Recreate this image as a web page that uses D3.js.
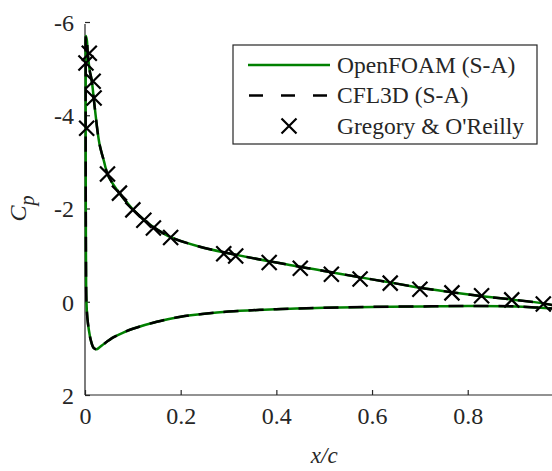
<!DOCTYPE html>
<html>
<head>
<meta charset="utf-8">
<script src="https://cdn.jsdelivr.net/npm/d3@7"></script>
<style>
  body { margin: 0; background: #fff; }
  svg { display: block; overflow: hidden; }
</style>
</head>
<body>
<div id="chart"></div>
<script>
// surface Cp, traced from lower TE round the leading edge to upper TE
var surfX = [1.0, 0.9, 0.8, 0.7, 0.6, 0.5, 0.4, 0.3, 0.24, 0.2, 0.15, 0.1, 0.08, 0.06, 0.04, 0.03, 0.024,
             0.018, 0.012, 0.008, 0.005, 0.003, 0.002, 0.0015, 0.0015, 0.002,
             0.004, 0.006, 0.01, 0.014, 0.02, 0.03, 0.04, 0.047, 0.06, 0.072, 0.1, 0.123, 0.143, 0.18,
             0.24, 0.3, 0.4, 0.5, 0.6, 0.64, 0.7, 0.77, 0.83, 0.89, 0.96, 1.0];
var foamCp = [0.16, 0.10, 0.09, 0.10, 0.11, 0.13, 0.16, 0.21, 0.27, 0.32, 0.43, 0.58, 0.66, 0.76, 0.9, 0.98, 1.02,
              0.99, 0.82, 0.6, 0.35, 0.0, -1.0, -3.0, -5.0, -5.7,
              -5.6, -5.3, -4.95, -4.75, -4.2, -3.4, -3.0, -2.74, -2.5, -2.33, -1.98, -1.76, -1.6, -1.38,
              -1.18, -1.04, -0.84, -0.66, -0.48, -0.41, -0.3, -0.2, -0.12, -0.05, 0.04, 0.12];
var cfl3dCp = foamCp.slice();

// Gregory & O'Reilly measurements
var expX  = [0.009, 0.002, 0.017, 0.019, 0.0035, 0.047, 0.072, 0.1, 0.123, 0.143, 0.179,
             0.29, 0.315, 0.385, 0.45, 0.515, 0.575, 0.638, 0.70, 0.767, 0.829, 0.892, 0.958];
var expCp = [-5.33, -5.12, -4.73, -4.37, -3.72, -2.74, -2.33, -1.97, -1.75, -1.58, -1.38,
             -1.03, -0.98, -0.84, -0.72, -0.59, -0.49, -0.40, -0.27, -0.19, -0.13, -0.04, 0.05];

var xTicks = [0, 0.2, 0.4, 0.6, 0.8];
var yTicks = [-6, -4, -2, 0, 2];
var legendLabels = ['OpenFOAM (S-A)', 'CFL3D (S-A)', "Gregory & O'Reilly"];

var W = 552, H = 471;
var serif = '"Liberation Serif", "Times New Roman", serif';
var svg = d3.select('#chart').append('svg')
    .attr('width', W)
    .attr('height', H)
    .style('font-family', serif);

var x = d3.scaleLinear().domain([0, 1]).range([85, 563.4]);
var y = d3.scaleLinear().domain([-6, 2]).range([22, 395]);

var axisColor = '#262626';

// axes (MATLAB style, box off, ticks inward)
var xAxis = svg.append('g')
    .attr('transform', 'translate(0,' + y(2) + ')')
    .call(d3.axisBottom(x).tickValues(xTicks).tickSize(-5).tickPadding(12)
        .tickFormat(d => String(d)));
var yAxis = svg.append('g')
    .attr('transform', 'translate(' + x(0) + ',0)')
    .call(d3.axisLeft(y).tickValues(yTicks).tickSize(-5).tickPadding(11)
        .tickFormat(d => String(d)));

[xAxis, yAxis].forEach(g => {
    g.attr('font-family', null).attr('font-size', null);
    g.select('.domain').attr('stroke', axisColor).attr('stroke-width', 1.2);
    g.selectAll('.tick line').attr('stroke', axisColor).attr('stroke-width', 1.2);
    g.selectAll('.tick text')
        .style('font-family', serif)
        .style('font-size', '24px')
        .attr('fill', axisColor);
});
xAxis.select('.domain').attr('d', 'M' + x(0) + ',0H' + x(1));
yAxis.select('.domain').attr('d', 'M0,' + (y(-6) + 2) + 'V' + y(2));
yAxis.selectAll('.tick text').attr('dy', '0.35em');

svg.append('text')
    .attr('x', x(0.5))
    .attr('y', 463)
    .attr('text-anchor', 'middle')
    .attr('fill', axisColor)
    .style('font-size', '23px')
    .style('font-style', 'italic')
    .text('x/c');

var yl = svg.append('text')
    .attr('transform', 'translate(26,' + ((y(-6) + y(2)) / 2) + ') rotate(-90)')
    .attr('text-anchor', 'middle')
    .attr('fill', axisColor)
    .style('font-size', '24px')
    .style('font-style', 'italic');
yl.append('tspan').text('C');
yl.append('tspan').style('font-size', '20px').attr('dy', 8).text('p');

var plot = svg.append('g');

var line = d3.line()
    .x(d => x(d[0]))
    .y(d => y(d[1]))
    .curve(d3.curveCatmullRom.alpha(0.5));

plot.append('path')
    .datum(d3.zip(surfX, foamCp))
    .attr('d', line)
    .attr('fill', 'none')
    .attr('stroke', '#008000')
    .attr('stroke-width', 2.5);

plot.append('path')
    .datum(d3.zip(surfX, cfl3dCp))
    .attr('d', line)
    .attr('fill', 'none')
    .attr('stroke', '#000')
    .attr('stroke-width', 2.5)
    .attr('stroke-dasharray', '15,10');

var m = 7.5;
function cross(sel) {
    sel.append('path')
        .attr('d', 'M' + (-m) + ',' + (-m) + 'L' + m + ',' + m + 'M' + (-m) + ',' + m + 'L' + m + ',' + (-m))
        .attr('stroke', '#000')
        .attr('stroke-width', 2.2)
        .attr('fill', 'none');
}

plot.selectAll('.exp')
    .data(d3.zip(expX, expCp))
    .join('g')
    .attr('class', 'exp')
    .attr('transform', d => 'translate(' + x(d[0]) + ',' + y(d[1]) + ')')
    .call(cross);

// legend
var lg = svg.append('g');
lg.append('rect')
    .attr('x', 233).attr('y', 45)
    .attr('width', 304).attr('height', 99)
    .attr('fill', '#fff')
    .attr('stroke', axisColor)
    .attr('stroke-width', 1.2);

var rowY = [65, 95.5, 126];
lg.append('line')
    .attr('x1', 248).attr('x2', 330).attr('y1', rowY[0]).attr('y2', rowY[0])
    .attr('stroke', '#008000').attr('stroke-width', 2.5);
lg.append('line')
    .attr('x1', 249).attr('x2', 330).attr('y1', rowY[1]).attr('y2', rowY[1])
    .attr('stroke', '#000').attr('stroke-width', 2.5)
    .attr('stroke-dasharray', '14,18');
lg.append('g')
    .attr('transform', 'translate(289,' + rowY[2] + ')')
    .call(cross);

lg.selectAll('.lab')
    .data(legendLabels)
    .join('text')
    .attr('class', 'lab')
    .attr('x', 337)
    .attr('y', (d, i) => rowY[i])
    .attr('dy', '0.32em')
    .attr('fill', axisColor)
    .style('font-size', '23.5px')
    .text(d => d);
</script>
</body>
</html>
